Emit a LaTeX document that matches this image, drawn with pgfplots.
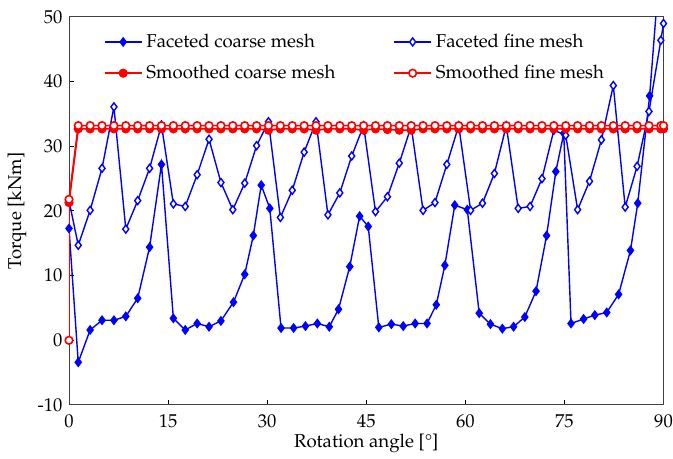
\documentclass[border=0pt]{standalone}
\usepackage[T1]{fontenc}
\usepackage{mathpazo}
\usepackage{pgfplots}
\pgfplotsset{compat=1.18}

\pgfplotstableread{
x y
0 17.3
1.4 -3.4
3.2 1.6
5.0 3.1
6.8 3.1
8.6 3.7
10.4 6.5
12.2 14.4
14.0 27.2
15.8 3.4
17.6 1.6
19.4 2.6
21.2 2.1
23.0 3.0
24.9 5.9
26.6 10.2
27.9 16.2
29.1 24.0
30.4 20.4
32.1 1.9
34.0 1.9
35.8 2.2
37.6 2.6
39.4 2.1
40.8 4.8
42.5 11.4
44.0 19.2
45.3 17.6
46.9 2.0
48.8 2.5
50.6 2.2
52.4 2.6
54.2 2.6
55.6 5.5
56.9 11.6
58.4 20.9
60.3 20.2
62.1 4.2
63.8 2.5
65.6 1.8
67.3 2.1
69.0 3.6
70.7 7.6
72.3 16.2
73.7 26.1
74.9 32.0
76.0 2.6
77.9 3.3
79.6 3.9
81.4 4.3
83.2 7.1
85.0 13.9
86.1 21.2
87.9 37.8
89.6 60.0
90.0 64.0
}\facetedcoarse

\pgfplotstableread{
x y
0 21.6
1.4 14.7
3.2 20.1
5.0 26.6
6.8 36.1
8.6 17.2
10.4 21.6
12.2 26.6
14.0 33.3
15.8 21.1
17.6 20.7
19.4 25.6
21.2 31.1
23.0 24.4
24.8 20.2
26.6 24.3
28.4 30.1
30.2 33.8
32.0 19.0
33.8 23.2
35.6 29.1
37.4 33.8
39.2 19.4
41.0 22.8
42.8 28.5
44.6 33.2
46.4 19.9
48.2 22.2
50.0 27.4
51.8 33.1
53.6 20.1
55.4 21.3
57.2 27.2
59.0 33.2
60.8 20.1
62.6 21.2
64.4 25.8
66.2 33.2
68.0 20.4
69.8 20.7
71.6 25.0
73.4 32.5
75.2 31.7
77.0 20.2
78.8 24.6
80.6 31.0
82.4 39.4
84.2 20.6
86.0 26.9
87.8 35.4
89.6 46.4
90.0 49.0
}\facetedfine

\pgfplotstableread{
x y
0 21.3
1.4 32.7
3.2 32.7
5.0 32.7
6.8 32.7
8.6 32.7
10.4 32.7
12.2 32.7
14.0 32.7
15.8 32.7
17.6 32.7
19.4 32.7
21.2 32.7
23.0 32.7
24.8 32.7
26.6 32.7
28.4 32.7
30.2 32.5
32.0 32.7
33.8 32.7
35.6 32.7
37.4 32.5
39.2 32.7
41.0 32.7
42.8 32.7
44.6 32.5
46.4 32.7
48.2 32.6
50.0 32.5
51.8 32.5
53.6 32.7
55.4 32.7
57.2 32.7
59.0 32.7
60.8 32.7
62.6 32.7
64.4 32.7
66.2 32.7
68.0 32.7
69.8 32.7
71.6 32.7
73.4 32.7
75.2 32.7
77.0 32.7
78.8 32.7
80.6 32.7
82.4 32.7
84.2 32.7
86.0 32.7
87.8 32.7
89.6 32.7
90.0 32.7
}\smoothedcoarse

\pgfplotstableread{
x y
0 0
0 21.8
1.4 33.2
3.2 33.2
5.0 33.2
6.8 33.2
8.6 33.2
10.4 33.2
12.2 33.2
14.0 33.2
15.8 33.2
17.6 33.2
19.4 33.2
21.2 33.2
23.0 33.2
24.8 33.2
26.6 33.2
28.4 33.2
30.2 33.2
32.0 33.2
33.8 33.2
35.6 33.2
37.4 33.2
39.2 33.2
41.0 33.2
42.8 33.2
44.6 33.2
46.4 33.2
48.2 33.2
50.0 33.2
51.8 33.2
53.6 33.2
55.4 33.2
57.2 33.2
59.0 33.2
60.8 33.2
62.6 33.2
64.4 33.2
66.2 33.2
68.0 33.2
69.8 33.2
71.6 33.2
73.4 33.2
75.2 33.2
77.0 33.2
78.8 33.2
80.6 33.2
82.4 33.2
84.2 33.2
86.0 33.2
87.8 33.2
89.6 33.2
90.0 33.2
}\smoothedfine

\definecolor{pblue}{RGB}{0,0,255}
\definecolor{pred}{RGB}{255,0,0}

\begin{document}
\fontsize{9.3}{11}\selectfont
\begin{tikzpicture}
\begin{axis}[
  name=ax,
  scale only axis,
  width=297.25pt, height=194pt,
  xmin=0, xmax=90, ymin=-10, ymax=50,
  xtick={0,15,...,90},
  ytick={-10,0,10,20,30,40,50},
  yticklabels={-10,0,10,20,30,40,50},
  xtick pos=bottom, ytick pos=left,
  tick align=inside,
  major tick length=2.5pt,
  axis line style={black!75, line width=0.5pt},
  tick style={black, line width=0.5pt},
  xticklabel style={yshift=-1.5pt},
  xlabel={Rotation angle [\textdegree]},
  ylabel={Torque [kNm]},
  xlabel style={at={(axis description cs:0.5,-0.1)}, anchor=center},
  ylabel style={at={(axis description cs:-0.0875,0.5)}, anchor=center},
  legend columns=2,
  legend cell align=left,
  legend style={at={(axis description cs:0.058,0.968)}, anchor=north west,
    draw=none, fill=none, inner sep=0pt, row sep=3.5pt,
    /tikz/every even column/.append style={column sep=27pt},
    nodes={inner xsep=2pt}},
  legend image code/.code={\draw[mark repeat=2,mark phase=2,#1]
     plot coordinates {(0pt,0pt) (9.25pt,0pt) (18.5pt,0pt)};},
  clip=true,
]
\addplot[pblue, line width=0.7pt, mark=diamond*, mark size=2pt,
  mark options={fill=pblue, draw=pblue, solid}] table {\facetedcoarse};
\addlegendentry{Faceted coarse mesh}
\addplot[pblue, line width=0.7pt, mark=diamond*, mark size=2pt,
  mark options={fill=white, draw=pblue, solid}] table {\facetedfine};
\addlegendentry{Faceted fine mesh}
\addplot[pred, line width=0.8pt, mark=*, mark size=1.9pt,
  mark options={fill=pred, draw=pred, solid}] table {\smoothedcoarse};
\addlegendentry{Smoothed coarse mesh}
\addplot[pred, line width=0.8pt, mark=*, mark size=1.9pt,
  mark options={fill=white, draw=pred, solid}] table {\smoothedfine};
\addlegendentry{Smoothed fine mesh}
\end{axis}
\pgfresetboundingbox
\path[use as bounding box] ([xshift=-34.5pt,yshift=-27pt]ax.south west)
   rectangle ([xshift=4.75pt,yshift=8.5pt]ax.north east);
\end{tikzpicture}
\end{document}
